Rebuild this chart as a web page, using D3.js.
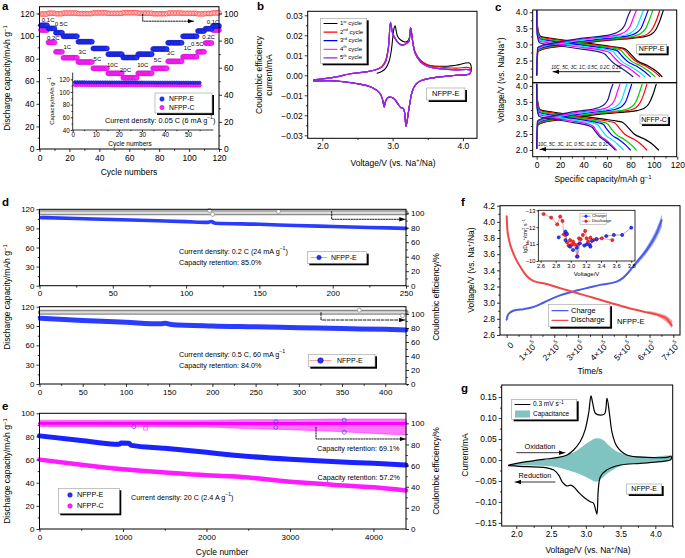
<!DOCTYPE html>
<html><head><meta charset="utf-8">
<script src="https://cdn.jsdelivr.net/npm/d3@7"></script>
<style>body{margin:0;background:#fff}</style>
</head><body>
<svg id="fig" width="685" height="558"></svg>
<script>
// ---------------- DATA ----------------
// (a) rate capability
const rateLabels = ["0.1C","0.2C","0.5C","1C","3C","5C","10C","20C","10C","5C","3C","1C","0.5C","0.2C","0.1C"];
const rateBlockSize = [5,5,5,10,10,10,10,10,10,10,10,10,5,5,5];
const rateCapE = [109.5,106.8,103,99.8,95,89,84,81,84,88.5,94,99.8,104.5,106.5,109];
const rateCapC = [105.3,94.4,86,80.8,77,71.4,67,63.1,67,71.4,77.6,81.7,86,93.8,105.3];
const rateCE = [99.6,100.2,99.8,100.3,99.9,100.4,100.1,100.5,100.2,99.8,100.3,100.1,99.7,100.0,100.4];
const rateLabelCycle = [5.8,9.2,14.5,18.6,28.7,38.7,48.8,57.5,69,79,87.7,99,105.5,113,116];
const rateLabelCap = [114,98,110.5,90.2,85.8,79.6,74.3,69.8,74.3,78.7,84.9,89.3,92.8,99.2,112.3];
const insetBlockSize = [5,5,5,5,5,5,5,5,5,5,5];
const insetCapE = [113.6,113.5,113.4,113.3,113.3,113.2,113.1,113.0,113.0,112.9,112.8];
const insetCapC = [111.0,110.9,110.9,110.8,110.7,110.7,110.6,110.5,110.5,110.4,110.3];

// (b) CV curves
const cvUpV  = [1.88,2.0,2.2,2.4,2.6,2.75,2.85,2.9,2.94,2.97,3.0,3.05,3.1,3.15,3.2,3.23,3.255,3.28,3.32,3.4,3.5,3.7,3.9,4.1];
const cvUpI  = [-0.0022,-0.0018,-0.0008,0.0008,0.0016,0.0026,0.0042,0.0068,0.0135,0.0265,0.021,0.0175,0.0155,0.015,0.016,0.0168,0.0238,0.018,0.011,0.0066,0.0044,0.0032,0.0027,0.0026];
const cvUpI2 = [-0.0022,-0.0018,-0.0008,0.0008,0.0016,0.0027,0.0046,0.0075,0.0145,0.026,0.0212,0.0178,0.0158,0.0152,0.0162,0.017,0.0236,0.0185,0.0118,0.0074,0.0052,0.004,0.0036,0.0036];
const cvUp1V = [2.78,2.85,2.9,2.95,2.98,3.0,3.02,3.035,3.07,3.12,3.17,3.21,3.24,3.26,3.29,3.33,3.4,3.5,3.7,3.9,4.1];
const cvUp1I = [0.001,0.002,0.0035,0.007,0.012,0.018,0.0235,0.0248,0.0195,0.0175,0.0167,0.017,0.019,0.0235,0.016,0.0105,0.0072,0.0052,0.0045,0.005,0.006];
const cvDnV  = [4.1,3.9,3.7,3.5,3.4,3.33,3.28,3.24,3.21,3.19,3.17,3.15,3.12,3.08,3.03,2.98,2.93,2.9,2.88,2.86,2.82,2.7,2.5,2.3,2.1,1.88];
const cvDnI  = [0.0008,0.0,-0.0007,-0.0017,-0.0027,-0.0045,-0.008,-0.015,-0.022,-0.0255,-0.0185,-0.0165,-0.0162,-0.0145,-0.012,-0.011,-0.0112,-0.013,-0.0158,-0.0125,-0.009,-0.006,-0.0042,-0.0032,-0.0027,-0.0028];
const cvCycles = ["1st","2nd","3rd","4th","5th"];

// (c) charge/discharge profiles
const cRates = ["0.1C","0.2C","0.5C","1C","3C","5C","10C"];
const cChgFrac = [0,0.01,0.05,0.15,0.3,0.45,0.6,0.75,0.84,0.9,0.94,0.97,1.0];
const cChgV = [
 [2.05,2.78,2.85,2.92,3.0,3.08,3.14,3.19,3.23,3.3,3.45,3.7,4.05],
 [2.05,2.79,2.86,2.93,3.01,3.09,3.15,3.2,3.24,3.32,3.48,3.72,4.05],
 [2.05,2.81,2.88,2.95,3.03,3.1,3.16,3.21,3.26,3.35,3.5,3.75,4.05],
 [2.05,2.83,2.9,2.97,3.05,3.12,3.18,3.23,3.28,3.37,3.52,3.77,4.05],
 [2.05,2.85,2.92,2.99,3.07,3.14,3.2,3.25,3.3,3.4,3.55,3.8,4.05],
 [2.05,2.87,2.94,3.01,3.09,3.16,3.21,3.26,3.32,3.42,3.58,3.82,4.05],
 [2.05,2.9,2.96,3.03,3.11,3.18,3.23,3.28,3.35,3.45,3.6,3.85,4.05]];
const cDisFrac = [0,0.005,0.03,0.1,0.25,0.4,0.55,0.66,0.71,0.75,0.8,0.88,0.95,1.0];
const cDisV = [
 [4.05,3.6,3.25,3.2,3.12,3.04,2.96,2.9,2.85,2.7,2.5,2.35,2.18,2.0],
 [4.05,3.55,3.23,3.18,3.1,3.02,2.95,2.89,2.84,2.68,2.49,2.34,2.17,2.0],
 [4.05,3.5,3.2,3.15,3.07,3.0,2.93,2.87,2.82,2.66,2.48,2.33,2.16,2.0],
 [4.05,3.45,3.17,3.12,3.05,2.98,2.91,2.85,2.8,2.64,2.47,2.32,2.15,2.0],
 [4.05,3.4,3.14,3.09,3.02,2.95,2.88,2.83,2.77,2.62,2.45,2.3,2.14,2.0],
 [4.05,3.35,3.1,3.06,2.99,2.92,2.86,2.8,2.74,2.6,2.44,2.29,2.13,2.0],
 [4.05,3.3,3.05,3.0,2.95,2.88,2.82,2.76,2.7,2.57,2.42,2.27,2.12,2.0]];
const cCapChgE = [108,105,99,95,91,85,80];
const cCapDisE = [107,105,101,97,92,88,82];
const cCapChgC = [102,94,90,81,77,71,65];
const cCapDisC = [104,94,85,80,74,68,67];

// (d) cycling 0.2 C and 0.5 C
const dTopCycles = [1,25,50,75,100,115,117,120,150,175,200,225,250];
const dTopCap    = [107,105.5,104,102.3,100.6,99.5,100.8,98,96.5,94.5,93,91.5,90];
const dTopCE     = [[1,100.8],[250,100.8]];
const dTopCEOut  = [[116,104],[118,98.5],[163,102.5]];
const dBotCycles = [1,50,100,140,146,152,200,250,300,350,400,424];
const dBotCap    = [102,98.5,95.8,93.5,94.2,92.5,90,88.8,87.4,86,84.9,84];
const dBotCE     = [[1,102.3],[424,102.3]];
const dBotCEOut  = [[370,105.5],[420,97.5]];

// (e) long cycling 20 C
const eCyclesE = [0,500,950,980,1070,1100,1500,2000,2300,3000,3500,4000,4390];
const eCapE    = [80.5,76.5,73.2,74.3,74.1,72.3,69.8,66.3,64,60.2,58.3,56.8,55.3];
const eCyclesC = [0,500,1000,1500,2000,2300,3000,3500,4000,4390];
const eCapC    = [60,55.5,51.6,48.8,46.4,45.6,40.9,38.3,36,33.3];
const eCECycles = [0,1000,2000,2500,3000,3500,4000,4390];
const eCEHi     = [103,103,103,103.5,103.5,104,104,104];
const eCELo     = [97,97,96.5,95,94,92.5,90.5,89];
const eCEOutE   = [[1130,96.8],[2830,101.5],[2830,96.2],[3650,103],[3650,91.5]];
const eCEOutC   = [[1270,95.3]];

// (f) GITT
const fChgT = [0,0.04,0.15,0.4,0.7,1.05,1.4,1.68,2.24,2.94,3.5,3.92,4.62,4.9,5.1,5.32,5.6,5.88,6.1,6.3,6.51];
const fChgV = [2.79,2.84,2.88,2.91,2.92,2.94,2.98,3.02,3.09,3.15,3.19,3.22,3.26,3.31,3.37,3.45,3.55,3.65,3.75,3.86,4.02];
const fDisT = [0,0.03,0.07,0.28,0.56,0.84,1.12,1.68,2.24,2.94,3.64,4.34,5.04,5.88,6.44,6.72,6.93];
const fDisV = [4.07,3.9,3.82,3.61,3.45,3.33,3.27,3.23,3.18,3.12,3.06,3.0,2.94,2.88,2.84,2.8,2.72];
const fChgBandT = [5.3,5.9,6.3,6.52];
const fChgBandHi = [3.47,3.7,3.92,4.09];
const fChgBandLo = [3.42,3.62,3.8,3.94];
const fDisBandT = [5.9,6.4,6.7,6.95];
const fDisBandHi = [2.9,2.87,2.84,2.78];
const fDisBandLo = [2.87,2.82,2.76,2.68];
const fTimeTicks = [0,1,2,3,4,5,6,7];
const fInsChg = [[2.84,-11.4],[2.93,-11.74],[2.95,-11.6],[2.93,-11.24],[2.99,-10.85],[3.03,-10.65],[3.08,-10.79],[3.09,-10.26],[3.12,-11.05],[3.18,-10.91],[3.21,-10.99],[3.25,-10.95],[3.26,-10.85],[3.28,-11.19],[3.34,-11.28],[3.47,-11.48],[3.57,-11.54],[3.68,-11.54],[3.8,-11.97]];
const fInsDis = [[2.64,-12.78],[2.74,-12.57],[2.82,-12.17],[2.86,-12.63],[2.89,-12.37],[2.91,-11.58],[2.93,-11.54],[2.95,-11.11],[2.97,-10.91],[2.99,-11.24],[3.01,-10.95],[3.03,-11.15],[3.05,-10.99],[3.08,-10.26],[3.09,-10.95],[3.11,-11.34],[3.13,-11.28],[3.16,-11.54],[3.19,-11.78],[3.21,-11.34],[3.23,-11.15],[3.26,-11.38],[3.3,-11.24],[3.34,-11.3],[3.41,-11.34],[3.55,-11.24]];

// (g) CV with capacitive contribution
const gUpV = [1.89,2.15,2.39,2.585,2.73,2.825,2.92,2.99,3.04,3.075,3.10,3.14,3.21,3.27,3.305,3.34,3.38,3.45,3.59,3.88,4.17,4.225];
const gUpI = [-0.012,-0.004,0.0016,0.0056,0.012,0.024,0.044,0.072,0.111,0.153,0.135,0.111,0.107,0.110,0.147,0.111,0.064,0.032,0.012,0.0064,0.0064,0.0095];
const gDnV = [4.225,4.07,3.78,3.5,3.30,3.21,3.18,3.16,3.14,3.11,3.065,2.99,2.90,2.825,2.78,2.73,2.66,2.61,2.54,2.39,2.15,1.89];
const gDnI = [0.0016,-0.004,-0.008,-0.012,-0.024,-0.04,-0.07,-0.129,-0.118,-0.103,-0.0995,-0.0915,-0.078,-0.064,-0.06,-0.062,-0.052,-0.036,-0.024,-0.0175,-0.016,-0.0135];
const gCapUpV = [1.89,2.2,2.5,2.7,2.85,3.0,3.1,3.16,3.25,3.33,3.45,3.6,3.9,4.22];
const gCapUpI = [-0.012,-0.003,0.003,0.01,0.02,0.038,0.049,0.052,0.048,0.035,0.02,0.012,0.007,0.0095];
const gCapDnV = [4.22,3.9,3.6,3.45,3.33,3.2,3.15,3.05,2.9,2.7,2.5,2.2,1.89];
const gCapDnI = [0.0016,-0.005,-0.01,-0.018,-0.03,-0.048,-0.052,-0.045,-0.033,-0.022,-0.015,-0.013,-0.0135];

// ---------------- HELPERS ----------------
const svg = d3.select("#fig");
const FF = '"Liberation Sans", Arial, Helvetica, sans-serif';
const defs = svg.append("defs");
defs.append("marker").attr("id","arr").attr("viewBox","0 0 8 6").attr("refX",8).attr("refY",3)
  .attr("markerWidth",6).attr("markerHeight",4.5).attr("markerUnits","userSpaceOnUse").attr("orient","auto")
  .append("path").attr("d","M0,0L8,3L0,6Z").attr("fill","#000");

function txt(x,y,s,o={}){
  const t = svg.append("text").attr("x",x).attr("y",y).attr("font-size",o.fs||7)
    .attr("font-family",FF).attr("text-anchor",o.anchor||"start")
    .attr("dominant-baseline",o.base||"middle").attr("fill",o.fill||"#000");
  if(o.rot) t.attr("transform",`rotate(${o.rot},${x},${y})`);
  if(o.bold) t.attr("font-weight","bold");
  if(o.italic) t.attr("font-style","italic");
  if(o.html) t.html(s); else t.text(s);
  return t;
}
const sup = (s,fs)=>`<tspan baseline-shift="super" font-size="${fs}">${s}</tspan>`;
function ax(scale,orient,pos,ticks,o={}){
  const gen = {bottom:d3.axisBottom,left:d3.axisLeft,right:d3.axisRight,top:d3.axisTop}[orient](scale)
    .tickValues(ticks).tickSizeInner(o.size===undefined?3:o.size).tickSizeOuter(0).tickPadding(o.pad===undefined?2:o.pad);
  if(o.blank) gen.tickFormat(()=>"");
  else if(o.fmt) gen.tickFormat(typeof o.fmt==="function"?o.fmt:d3.format(o.fmt));
  const g = svg.append("g").attr("transform",(orient==="bottom"||orient==="top")?`translate(0,${pos})`:`translate(${pos},0)`).call(gen);
  g.attr("font-size",null).attr("font-family",null);
  g.select(".domain").remove();
  g.selectAll(".tick line").attr("stroke","#000").attr("stroke-width",0.8);
  g.selectAll(".tick text").attr("font-size",o.fs||8.5).attr("font-family",FF).attr("fill","#000");
  return g;
}
const minor=(s,or,p,t,sz)=>ax(s,or,p,t,{size:sz||1.8,blank:true});
function frame(x0,x1,y0,y1,sw){
  svg.append("rect").attr("x",x0).attr("y",y0).attr("width",x1-x0).attr("height",y1-y0)
    .attr("fill","none").attr("stroke","#000").attr("stroke-width",sw||1);
}
function lbox(x0,y0,x1,y1){
  svg.append("rect").attr("x",x0+2).attr("y",y0+2).attr("width",x1-x0).attr("height",y1-y0).attr("fill","#000");
  svg.append("rect").attr("x",x0).attr("y",y0).attr("width",x1-x0).attr("height",y1-y0)
    .attr("fill","#fff").attr("stroke","#999").attr("stroke-width",0.6);
}
function path(d,stroke,sw,o={}){
  return svg.append("path").attr("d",d).attr("fill",o.fill||"none").attr("stroke",stroke)
    .attr("stroke-width",sw).attr("stroke-linejoin","round").attr("stroke-linecap","round")
    .attr("opacity",o.op===undefined?1:o.op).attr("stroke-dasharray",o.dash||null)
    .attr("marker-end",o.arrow?"url(#arr)":null);
}
const rng=(a,b,s)=>d3.range(a,b+s/2,s);
const BLUE="#2233ff", MAG="#ff22ff";
function ball(x,y,r,fill,stroke){
  svg.append("circle").attr("cx",x).attr("cy",y).attr("r",r).attr("fill",fill).attr("stroke",stroke).attr("stroke-width",0.5);
}
function expandBlocks(sizes,vals){ // one point per cycle of each constant-rate block
  const pts=[]; let c=0;
  sizes.forEach((n,i)=>{ for(let k=0;k<n;k++){ c++; pts.push([c,vals[i]]); } });
  return pts;
}

// ---------------- PANEL A ----------------
{
  const x=d3.scaleLinear([0,120],[39.5,219]);
  const yL=d3.scaleLinear([0,126],[149,6.7]);
  const yR=d3.scaleLinear([0,105],[149,6.7]);
  expandBlocks(rateBlockSize,rateCE).forEach(p=>svg.append("circle").attr("cx",x(p[0])).attr("cy",yR(p[1]))
     .attr("r",2.3).attr("fill","#fff0f0").attr("stroke","#ff3333").attr("stroke-width",0.7));
  expandBlocks(rateBlockSize,rateCapC).forEach(p=>ball(x(p[0]),yL(p[1]),2.5,MAG,"#c010c0"));
  expandBlocks(rateBlockSize,rateCapE).forEach(p=>ball(x(p[0]),yL(p[1]),2.5,BLUE,"#1010a0"));
  rateLabels.forEach((l,i)=>txt(x(rateLabelCycle[i]),yL(rateLabelCap[i]),l,{fs:6,anchor:"middle"}));
  path(d3.line()([[x(69),yR(99.5)],[x(69),yR(94.3)],[x(103),yR(94.3)]]),"#000",0.9,{dash:"1.5,1.2",arrow:true});
  frame(39.5,219,6.7,149);
  ax(x,"bottom",149,rng(0,120,20),{pad:3}); minor(x,"bottom",149,rng(10,110,20));
  ax(yL,"left",39.5,rng(0,120,20)); minor(yL,"left",39.5,rng(10,110,20));
  ax(yR,"right",219,rng(0,100,20)); minor(yR,"right",219,rng(10,90,20));
  txt(129,173,"Cycle numbers",{fs:8.5,anchor:"middle"});
  txt(8,78,"Discharge capacity/mAh g"+sup("−1",6),{fs:8.5,anchor:"middle",rot:-90,html:true});
  // inset
  const ix=d3.scaleLinear([0,60.8],[72.7,213]);
  const iy=d3.scaleLinear([40,130],[130,73]);
  expandBlocks(insetBlockSize,insetCapC).forEach(p=>ball(ix(p[0]),iy(p[1]),1.8,MAG,"#c010c0"));
  expandBlocks(insetBlockSize,insetCapE).forEach(p=>ball(ix(p[0]),iy(p[1])-1.2,1.6,BLUE,"#1010a0"));
  path(d3.line()([[72.7,73],[72.7,130],[213,130]]),"#000",0.8);
  ax(ix,"bottom",130,rng(0,50,10),{size:2,fs:6.3,pad:1}); minor(ix,"bottom",130,rng(5,55,10),1.2);
  ax(iy,"left",72.7,rng(40,120,20),{size:2,fs:6.3,pad:1}); minor(iy,"left",72.7,rng(50,110,20),1.2);
  txt(130,144,"Cycle numbers",{fs:6.5,anchor:"middle"});
  txt(52,101,"Capacity/mAh g"+sup("−1",4.5),{fs:6,anchor:"middle",rot:-90,html:true});
  lbox(155,93,212,113);
  ball(162,99,2.2,BLUE,"#1010a0"); txt(169,99.3,"NFPP-E",{fs:6.8});
  ball(162,107.5,2.2,MAG,"#c010c0"); txt(169,107.8,"NFPP-C",{fs:6.8});
  txt(105,121,"Current density: 0.05 C (6 mA g"+sup("−1",5)+")",{fs:7.3,html:true});
  txt(2,10,"a",{fs:11.5,bold:true,base:"alphabetic"});
}

// ---------------- PANEL B ----------------
{
  const x=d3.scaleLinear([1.7926,4.2],[307.7,477]);
  const y=d3.scaleLinear([-0.0315,0.032],[138.3,11.3]);
  const ln=d3.line().x(d=>x(d[0])).y(d=>y(d[1])).curve(d3.curveCatmullRom.alpha(0.5));
  const zip=(a,b)=>a.map((v,i)=>[v,b[i]]);
  const loopFull=(up)=>ln(zip(cvUpV,up).concat(zip(cvDnV,cvDnI)));
  const first=ln(zip(cvUp1V,cvUp1I).concat(zip(cvDnV,cvDnI)));
  path(first,"#000",1.1);
  path(loopFull(cvUpI2),"#ff0000",1.1);
  path(loopFull(cvUpI),"#0000ff",1.1);
  path(loopFull(cvUpI),"#ff33ff",1.1);
  path(loopFull(cvUpI),"#8a2be2",1.2);
  frame(307.7,477,11.3,138.3);
  ax(x,"bottom",138.3,[2,3,4],{fs:8.5}); minor(x,"bottom",138.3,[2.5,3.5]);
  ax(y,"left",307.7,rng(-0.03,0.03,0.01),{fmt:".2f"}); minor(y,"left",307.7,rng(-0.025,0.025,0.01));
  txt(393,164,"Voltage/V (vs. Na"+sup("+",5.5)+"/Na)",{fs:8.5,anchor:"middle",html:true});
  txt(260,75,"Coulombic efficiency",{fs:8.5,anchor:"middle",rot:-90});
  txt(269.5,75,"current/mA",{fs:8.5,anchor:"middle",rot:-90});
  lbox(320.7,18.3,366.7,63.3);
  const cols=["#000","#ff0000","#0000ff","#ff33ff","#8a2be2"];
  cvCycles.forEach((c,i)=>{
    const yy=23.5+i*8.6;
    path(d3.line()([[324,yy],[337,yy]]),cols[i],1.2);
    txt(340,yy,c.slice(0,1)+sup(c.slice(1),4)+" cycle",{fs:6,html:true});
  });
  lbox(426.7,88,465,100);
  txt(445.8,94.3,"NFPP-E",{fs:7.5,anchor:"middle"});
  txt(257,10,"b",{fs:11.5,bold:true,base:"alphabetic"});
}

// ---------------- PANEL C ----------------
{
  const x=d3.scaleLinear([-3.4,119.5],[532.7,676.7]);
  const yT=d3.scaleLinear([1.81,4.07],[82.7,10]);
  const yB=d3.scaleLinear([1.79,4.1],[156.7,82.7]);
  const cols=["#000000","#ff0000","#00cc00","#0000ff","#00e5ff","#ff00ff","#1c1c8c"];
  function draw(yS,capC,capD){
    const ln=d3.line().x(d=>x(d[0])).y(d=>yS(d[1])).curve(d3.curveMonotoneX);
    cRates.forEach((r,i)=>{
      path(ln(cChgFrac.map((f,k)=>[f*capC[i],cChgV[i][k]])),cols[i],1.2);
      path(ln(cDisFrac.map((f,k)=>[f*capD[i],cDisV[i][k]])),cols[i],1.2);
    });
  }
  draw(yT,cCapChgE,cCapDisE);
  draw(yB,cCapChgC,cCapDisC);
  frame(532.7,676.7,10,82.7); frame(532.7,676.7,82.7,156.7);
  ax(x,"bottom",156.7,rng(0,120,20)); minor(x,"bottom",156.7,rng(10,110,20));
  ax(yT,"left",532.7,rng(2,4,0.5),{fmt:".1f"}); minor(yT,"left",532.7,rng(2.25,3.75,0.5));
  ax(yB,"left",532.7,rng(2,4,0.5),{fmt:".1f"}); minor(yB,"left",532.7,rng(2.25,3.75,0.5));
  txt(603,180,"Specific capacity/mAh g"+sup("−1",6),{fs:8.5,anchor:"middle",html:true});
  txt(502,80,"Voltage/V (vs. Na/Na"+sup("+",6)+")",{fs:8.5,anchor:"middle",rot:-90,html:true});
  lbox(636.7,44.3,666.7,53.3); txt(651.7,49,"NFPP-E",{fs:7,anchor:"middle"});
  lbox(640,115,668,124); txt(654,119.7,"NFFP-C",{fs:7,anchor:"middle"});
  const rl="10C, 5C, 3C, 1C, 0.5C, 0.2C, 0.1C";
  txt(586.5,67.8,rl,{fs:4.6,anchor:"middle",italic:true});
  path(d3.line()([[620,71.7],[553,71.7]]),"#000",0.9,{arrow:true});
  txt(573.3,145,rl,{fs:4.6,anchor:"middle",italic:true});
  path(d3.line()([[606.7,149.3],[540,149.3]]),"#000",0.9,{arrow:true});
  txt(495,11,"c",{fs:11.5,bold:true,base:"alphabetic"});
}

// ---------------- PANEL D ----------------
function grayBand(d){ path(d,"#8a8a8a",5); path(d,"#dcdcdc",2.4); }
{
  const x=d3.scaleLinear([0,250],[39.5,406]);
  const yL=d3.scaleLinear([0,120],[285.7,209.3]);
  const yR=d3.scaleLinear([0,105.5],[285.7,209.3]);
  grayBand(d3.line().x(d=>x(d[0])).y(d=>yR(d[1]))(dTopCE));
  dTopCEOut.forEach(p=>svg.append("circle").attr("cx",x(p[0])).attr("cy",yR(p[1])).attr("r",2).attr("fill","#fff").attr("stroke","#777").attr("stroke-width",0.6));
  const ln=d3.line().x(d=>x(d[0])).y(d=>yL(d[1])).curve(d3.curveMonotoneX);
  path(ln(dTopCycles.map((c,i)=>[c,dTopCap[i]])),"#2a3cff",3.6);
  path(d3.line()([[x(199.3),yR(102.2)],[x(199.3),yR(91.7)],[x(249.5),yR(91.7)]]),"#000",0.9,{dash:"1.5,1.2",arrow:true});
  frame(39.5,406,209.3,285.7);
  ax(x,"bottom",285.7,rng(0,250,50),{fs:8}); minor(x,"bottom",285.7,rng(25,225,50));
  ax(yL,"left",39.5,rng(0,120,30),{fs:8}); minor(yL,"left",39.5,rng(15,105,30));
  ax(yR,"right",406,rng(0,100,20),{fs:8}); minor(yR,"right",406,rng(10,90,20));
  txt(179,251.7,"Current density: 0.2 C (24 mA g"+sup("−1",5)+")",{fs:7.2,html:true});
  txt(179,262.7,"Capacity retention: 85.0%",{fs:7.2});
  lbox(307.3,251.7,366.7,263.3);
  path(d3.line()([[311,257.5],[327,257.5]]),"#ffa0a0",1);
  ball(319,257.5,2.2,BLUE,"#1010a0"); txt(331,257.8,"NFPP-E",{fs:7});
}
{
  const x=d3.scaleLinear([0,424],[39.5,406]);
  const yL=d3.scaleLinear([0,120],[384,306.7]);
  const yR=d3.scaleLinear([0,110.4],[384,306.7]);
  grayBand(d3.line().x(d=>x(d[0])).y(d=>yR(d[1]))(dBotCE));
  dBotCEOut.forEach(p=>svg.append("circle").attr("cx",x(p[0])).attr("cy",yR(p[1])).attr("r",2).attr("fill","#fff").attr("stroke","#777").attr("stroke-width",0.6));
  const ln=d3.line().x(d=>x(d[0])).y(d=>yL(d[1])).curve(d3.curveMonotoneX);
  path(ln(dBotCycles.map((c,i)=>[c,dBotCap[i]])),"#2a3cff",5);
  path(d3.line()([[x(325.7),yR(102)],[x(325.7),yR(91.4)],[x(423),yR(91.4)]]),"#000",0.9,{dash:"3,1.5",arrow:true});
  frame(39.5,406,306.7,384);
  ax(x,"bottom",384,rng(0,400,50),{fs:8}); minor(x,"bottom",384,rng(25,425,50));
  ax(yL,"left",39.5,rng(0,120,30),{fs:8}); minor(yL,"left",39.5,rng(15,105,30));
  ax(yR,"right",406,rng(0,100,20),{fs:8}); minor(yR,"right",406,rng(10,90,20));
  txt(179,355,"Current density: 0.5 C, 60 mA g"+sup("−1",5),{fs:7.2,html:true});
  txt(179,365.7,"Capacity retention: 84.0%",{fs:7.2});
  lbox(308.3,354.3,375,366.7);
  path(d3.line()([[310,360.5],[331,360.5]]),"#ffa0a0",1);
  ball(320.5,360.5,2.8,BLUE,"#1010a0"); txt(337,360.8,"NFPP-E",{fs:7});
  txt(8,297,"Discharge capacity/mAh g"+sup("−1",6),{fs:8.5,anchor:"middle",rot:-90,html:true});
  txt(437,297,"Coulombic efficiency/%",{fs:8.5,anchor:"middle",rot:-90});
  txt(2,206,"d",{fs:11.5,bold:true,base:"alphabetic"});
}

// ---------------- PANEL E ----------------
{
  const x=d3.scaleLinear([0,4390],[39.5,406]);
  const yL=d3.scaleLinear([0,100],[529,413.3]);
  const yR=d3.scaleLinear([0,109.5],[529,413.3]);
  const area=d3.area().x((d,i)=>x(eCECycles[i])).y0((d,i)=>yR(eCELo[i])).y1((d,i)=>yR(eCEHi[i])).curve(d3.curveMonotoneX);
  svg.append("path").attr("d",area(eCECycles)).attr("fill","#ff55ff").attr("opacity",0.8).attr("stroke","#ff00ff").attr("stroke-width",0.6);
  path(d3.line().x(d=>x(d[0])).y(d=>yR(d[1]))([[0,100],[4390,99.8]]),"#ff00ff",3);
  eCEOutE.forEach(p=>svg.append("circle").attr("cx",x(p[0])).attr("cy",yR(p[1])).attr("r",2).attr("fill","none").attr("stroke","#3344ff").attr("stroke-width",0.7));
  eCEOutC.forEach(p=>svg.append("rect").attr("x",x(p[0])-1.8).attr("y",yR(p[1])-1.8).attr("width",3.6).attr("height",3.6).attr("fill","none").attr("stroke","#ff33ff").attr("stroke-width",0.7));
  const ln=d3.line().x(d=>x(d[0])).y(d=>yL(d[1])).curve(d3.curveMonotoneX);
  path(ln(eCyclesC.map((c,i)=>[c,eCapC[i]])),"#ff1aff",4.5);
  path(ln(eCyclesE.map((c,i)=>[c,eCapE[i]])),"#1a22ff",5);
  path(d3.line()([[x(3312),yR(96.3)],[x(3312),yR(85.2)],[x(4385),yR(85.2)]]),"#000",0.9,{dash:"1.5,1.2",arrow:true});
  frame(39.5,406,413.3,529);
  ax(x,"bottom",529,rng(0,4000,1000),{fs:8,fmt:"d"}); minor(x,"bottom",529,rng(500,4000,1000));
  ax(yL,"left",39.5,rng(0,100,20),{fs:8}); minor(yL,"left",39.5,rng(10,90,20));
  ax(yR,"right",406,rng(0,100,20),{fs:8}); minor(yR,"right",406,rng(10,90,20));
  txt(222,553,"Cycle number",{fs:8.5,anchor:"middle"});
  txt(8,471,"Discharge capacity/mAh g"+sup("−1",6),{fs:8.5,anchor:"middle",rot:-90,html:true});
  txt(437,471,"Coulombic efficiency/%",{fs:8.5,anchor:"middle",rot:-90});
  lbox(58.3,488.3,119.3,513.3);
  ball(70,495,2.3,BLUE,"#1010a0"); txt(77,495.3,"NFPP-E",{fs:7.2});
  ball(70,506,2.3,MAG,"#c010c0"); txt(77,506.3,"NFPP-C",{fs:7.2});
  txt(131,498,"Current density: 20 C (2.4 A g"+sup("−1",5)+")",{fs:7.2,html:true});
  txt(317,449,"Capacity retention: 69.1%",{fs:7.2});
  txt(317.5,477.7,"Capacity retention: 57.2%",{fs:7.2});
  txt(2,410,"e",{fs:11.5,bold:true,base:"alphabetic"});
}

// ---------------- PANEL F ----------------
{
  const x=d3.scaleLinear([-0.28,7.28],[500,680]);
  const y=d3.scaleLinear([2.6,4.2],[335,205.7]);
  const ln=d3.line().x(d=>x(d[0])).y(d=>y(d[1])).curve(d3.curveMonotoneX);
  const ar=(t,hi,lo)=>d3.area().x((d,i)=>x(t[i])).y0((d,i)=>y(lo[i])).y1((d,i)=>y(hi[i])).curve(d3.curveMonotoneX)(t);
  svg.append("path").attr("d",ar(fChgBandT,fChgBandHi,fChgBandLo)).attr("fill","#7f8cf0").attr("opacity",0.8);
  svg.append("path").attr("d",ar(fDisBandT,fDisBandHi,fDisBandLo)).attr("fill","#f58a8a").attr("opacity",0.8);
  path(ln(fChgT.map((t,i)=>[t,fChgV[i]])),"#4a5ce8",2);
  path(ln(fDisT.map((t,i)=>[t,fDisV[i]])),"#f04848",2);
  frame(500,680,205.7,335);
  ax(y,"left",500,rng(2.6,4.2,0.2),{fmt:".1f"}); minor(y,"left",500,rng(2.7,4.1,0.2));
  ax(x,"bottom",335,fTimeTicks,{fmt:d=>""}); minor(x,"bottom",335,rng(0.5,6.5,1));
  fTimeTicks.forEach(t=>{
    const s = t===0?"0":t+"×10"+sup("5",5.5);
    const tx=x(t)+3, ty=341;
    svg.append("text").attr("x",tx).attr("y",ty).attr("font-size",8.5).attr("font-family",FF)
      .attr("text-anchor","end").attr("dominant-baseline","hanging").attr("transform",`rotate(-45,${tx},${ty})`).html(s);
  });
  txt(590,372,"Time/s",{fs:8.5,anchor:"middle"});
  txt(472,270,"Voltage/V (vs. Na"+sup("+",6)+"/Na)",{fs:8.5,anchor:"middle",rot:-90,html:true});
  lbox(548.3,304.3,610,326.7);
  path(d3.line()([[552,310.7],[568,310.7]]),"#4a5ce8",1.3); txt(571,310.9,"Charge",{fs:7.5});
  path(d3.line()([[552,320.3],[568,320.3]]),"#f04848",1.3); txt(571,320.5,"Discharge",{fs:7.5});
  txt(617,322.5,"NFPP-E",{fs:7.5});
  // inset
  const ix=d3.scaleLinear([2.57,3.85],[538.3,635]);
  const iy=d3.scaleLinear([-13,-10],[210.3,261]);
  svg.append("rect").attr("x",538.3).attr("y",210.3).attr("width",96.7).attr("height",50.7).attr("fill","#fff");
  const il=d3.line().x(d=>ix(d[0])).y(d=>iy(d[1]));
  path(il(fInsDis),"#ff4040",0.5); path(il(fInsChg),"#4050ff",0.5);
  fInsDis.forEach(p=>ball(ix(p[0]),iy(p[1]),1.6,"#ff2a2a","#b00000"));
  fInsChg.forEach(p=>ball(ix(p[0]),iy(p[1]),1.6,"#2a3cff","#0000a0"));
  frame(538.3,635,210.3,261,0.8);
  ax(ix,"bottom",261,rng(2.6,3.8,0.2),{fmt:".1f",size:1.8,fs:5.8,pad:1});
  ax(iy,"left",538.3,[-13,-12,-11,-10],{fmt:d=>d3.format("d")(d),size:1.8,fs:5.8,pad:1});
  txt(586.5,274,"Voltage/V",{fs:6,anchor:"middle"});
  txt(525.5,236,"lgD"+"<tspan baseline-shift=\"sub\" font-size=\"3.8\">Na</tspan>"+sup("+",3.8)+"/cm"+sup("2",3.8)+" s"+sup("−1",3.8),{fs:5.2,anchor:"middle",rot:-90,html:true});
  svg.append("rect").attr("x",580).attr("y",213.3).attr("width",26.7).attr("height",11).attr("fill","#fff").attr("stroke","#999").attr("stroke-width",0.5);
  path(d3.line()([[582,216.2],[590,216.2]]),"#4050ff",0.6); ball(586,216.2,1.2,"#2a3cff","#0000a0"); txt(592,216.3,"Charge",{fs:4.3});
  path(d3.line()([[582,221.2],[590,221.2]]),"#ff4040",0.6); ball(586,221.2,1.2,"#ff2a2a","#b00000"); txt(592,221.3,"Discharge",{fs:4.3});
  txt(461,206,"f",{fs:11.5,bold:true,base:"alphabetic"});
}

// ---------------- PANEL G ----------------
{
  const x=d3.scaleLinear([1.79,4.25],[501.7,672.7]);
  const y=d3.scaleLinear([-0.1575,0.179],[526,385]);
  const zip=(a,b)=>a.map((v,i)=>[x(v),y(b[i])]);
  const cr=d3.line().curve(d3.curveCatmullRom.alpha(0.5));
  svg.append("path").attr("d",cr(zip(gCapUpV,gCapUpI).concat(zip(gCapDnV,gCapDnI)))+"Z")
    .attr("fill","#7fc4c0").attr("stroke","none");
  path(cr(zip(gUpV,gUpI).concat(zip(gDnV,gDnI)))+"Z","#000",1.2);
  frame(501.7,672.7,385,526);
  ax(x,"bottom",526,rng(2,4,0.5),{fmt:".1f"}); minor(x,"bottom",526,rng(2.25,4.25,0.5));
  ax(y,"left",501.7,rng(-0.15,0.15,0.05),{fmt:".2f"}); minor(y,"left",501.7,rng(-0.125,0.175,0.05));
  txt(588,551,"Voltage/V (vs. Na"+sup("+",6)+"/Na)",{fs:8.5,anchor:"middle",html:true});
  txt(466,455,"Current/mA",{fs:8.5,anchor:"middle",rot:-90});
  lbox(511.7,399.3,576.7,419.3);
  path(d3.line()([[515,404.5],[530,404.5]]),"#000",1.2); txt(533,404.7,"0.3 mV s"+sup("−1",4.5),{fs:6.5,html:true});
  svg.append("rect").attr("x",515).attr("y",410.5).attr("width",15).attr("height",7).attr("fill","#7fc4c0");
  txt(533,414.3,"Capacitance",{fs:6.5});
  txt(540,447.3,"Oxidation",{fs:7.3,anchor:"middle"});
  path(d3.line()([[516.7,452.7],[565,452.7]]),"#000",0.8,{arrow:true});
  txt(535,476,"Reduction",{fs:7.3,anchor:"middle"});
  path(d3.line()([[555,482],[515,482]]),"#000",0.8,{arrow:true});
  lbox(626.7,484,661.7,494); txt(644.2,489.3,"NFPP-E",{fs:7,anchor:"middle"});
  txt(461,392,"g",{fs:11.5,bold:true,base:"alphabetic"});
}
</script>
</body></html>
